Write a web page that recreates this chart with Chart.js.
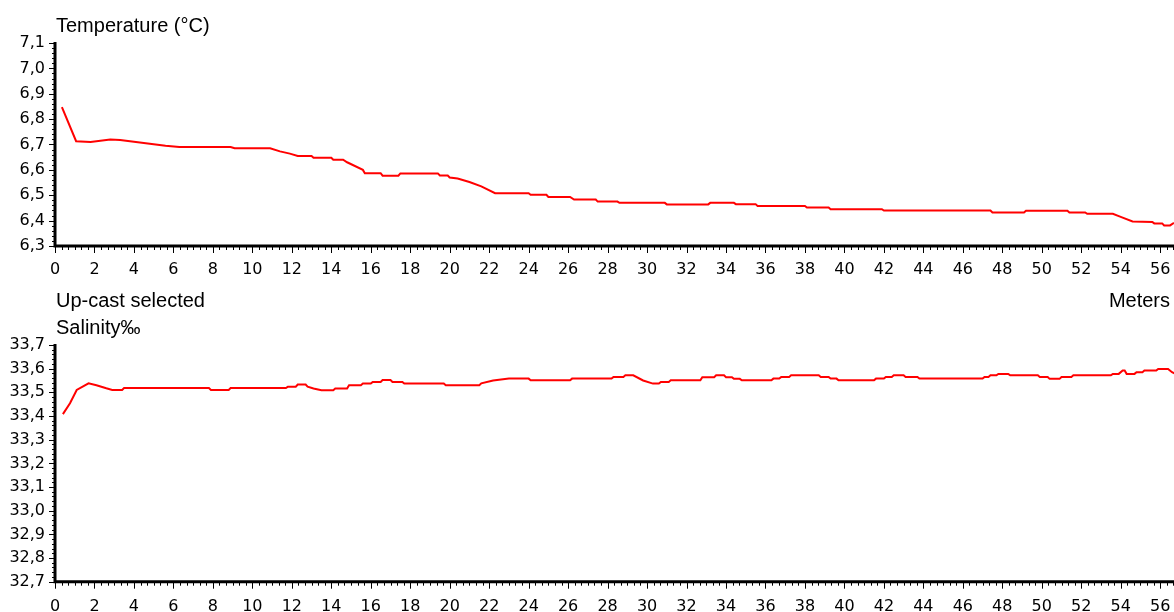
<!DOCTYPE html>
<html><head><meta charset="utf-8">
<script src="https://cdn.jsdelivr.net/npm/chart.js@4.4.1/dist/chart.umd.min.js"></script>
<style>
html,body{margin:0;padding:0;background:#fff;width:1174px;height:612px;overflow:hidden;}
.wrap{position:absolute;left:0;width:1174px;}
.lbl{position:absolute;font-family:"Liberation Sans",Arial,sans-serif;font-size:20px;color:#000;line-height:20px;white-space:nowrap;}
</style></head><body>
<div class="wrap" style="top:0;height:290px"><canvas id="c1"></canvas></div>
<div class="wrap" style="top:300px;height:312px"><canvas id="c2"></canvas></div>
<div class="lbl" style="left:56px;top:15px">Temperature (°C)</div>
<div class="lbl" style="left:56px;top:290px">Up-cast selected</div>
<div class="lbl" style="right:4px;top:290px">Meters</div>
<div class="lbl" style="left:56px;top:317px">Salinity‰</div>
<script>
// ---- data ----
const tempDepth = [0.35,1.07,1.8,2.8,3.3,4.1,4.8,5.6,6.3,8.9,9.1,10.9,11.4,11.9,12.3,13.0,13.1,14.0,14.1,14.6,14.8,15.6,15.7,16.5,16.6,17.4,17.5,19.4,19.5,19.9,20.0,20.4,21.0,21.6,22.3,24.0,24.1,24.9,25.0,26.1,26.3,27.4,27.5,28.5,28.6,30.9,31.0,33.1,33.2,34.4,34.5,35.5,35.6,38.0,38.1,39.2,39.3,41.9,42.0,47.4,47.5,49.1,49.2,51.3,51.4,52.2,52.3,53.6,54.0,54.6,55.6,55.7,56.1,56.2,56.5,56.7];
const tempValue = [6.847,6.713,6.71,6.72,6.718,6.71,6.703,6.695,6.69,6.69,6.685,6.685,6.673,6.664,6.655,6.655,6.648,6.648,6.64,6.64,6.63,6.60,6.587,6.587,6.577,6.577,6.586,6.586,6.578,6.578,6.57,6.566,6.552,6.535,6.508,6.508,6.502,6.502,6.493,6.493,6.483,6.483,6.475,6.475,6.47,6.47,6.464,6.464,6.47,6.47,6.465,6.465,6.458,6.458,6.452,6.452,6.445,6.445,6.44,6.44,6.432,6.432,6.439,6.439,6.432,6.432,6.427,6.427,6.415,6.397,6.395,6.389,6.389,6.381,6.381,6.391];

const salDepth = [0.4,0.76,1.1,1.7,2.1,2.6,2.9,3.4,3.5,7.8,7.9,8.8,8.9,11.7,11.8,12.2,12.3,12.7,12.8,13.1,13.5,14.1,14.2,14.8,14.9,15.5,15.6,16.0,16.1,16.5,16.6,17.0,17.1,17.6,17.7,19.7,19.8,21.5,21.6,22.2,23.0,24.0,24.1,26.1,26.2,28.2,28.3,28.8,28.9,29.3,29.8,30.3,30.6,30.7,31.1,31.2,32.7,32.8,33.4,33.5,33.9,34.0,34.3,34.4,34.7,34.8,36.3,36.4,36.7,36.8,37.2,37.3,38.7,38.8,39.2,39.3,39.6,39.7,41.5,41.6,42.0,42.1,42.4,42.5,43.0,43.1,43.7,43.8,47.0,47.1,47.3,47.4,47.7,47.8,48.3,48.4,49.8,49.9,50.3,50.4,50.9,51.0,51.5,51.6,53.5,53.6,53.9,54.1,54.2,54.3,54.7,54.8,55.1,55.2,55.8,55.9,56.4,56.6,56.8];
const salValue = [33.408,33.454,33.51,33.538,33.53,33.517,33.51,33.51,33.518,33.518,33.51,33.51,33.518,33.518,33.524,33.524,33.533,33.533,33.524,33.516,33.509,33.509,33.516,33.516,33.53,33.53,33.537,33.537,33.544,33.544,33.552,33.552,33.544,33.544,33.537,33.537,33.53,33.53,33.538,33.55,33.558,33.558,33.551,33.551,33.558,33.558,33.565,33.565,33.572,33.572,33.55,33.537,33.537,33.544,33.544,33.551,33.551,33.564,33.564,33.572,33.572,33.564,33.564,33.557,33.557,33.551,33.551,33.558,33.558,33.565,33.565,33.572,33.572,33.565,33.565,33.558,33.558,33.551,33.551,33.558,33.558,33.565,33.565,33.572,33.572,33.565,33.565,33.558,33.558,33.565,33.565,33.572,33.572,33.578,33.578,33.572,33.572,33.565,33.565,33.557,33.557,33.565,33.565,33.572,33.572,33.578,33.578,33.592,33.592,33.578,33.578,33.585,33.585,33.592,33.592,33.599,33.599,33.585,33.578];

const xRange = [0, 56.7];
const tempRange = [6.3, 7.1];
const salRange = [32.7, 33.7];
const xLabelStep = 2;
const yLabelStep = 0.1;

// ---- drawing ----
const tickFont = {family: "'DejaVu Sans', sans-serif", size: 16};
const axisPlugin = {
  id: 'axisDraw',
  afterDraw(chart) {
    const ctx = chart.ctx, xs = chart.scales.x, ys = chart.scales.y, ca = chart.chartArea;
    ctx.save();
    ctx.strokeStyle = '#000';
    ctx.lineWidth = 1;
    // x ticks: minor every 1/3, major every 2
    const nX = Math.round((xs.max - xs.min) * 3);
    for (let i = 0; i <= nX; i++) {
      const v = xs.min + i / 3;
      const px = Math.round(xs.getPixelForValue(v)) + 0.5;
      const len = (i % 6 === 0) ? 7 : 4;
      ctx.beginPath(); ctx.moveTo(px, ca.bottom); ctx.lineTo(px, ca.bottom + len); ctx.stroke();
    }
    // y ticks: minor every 0.02, major every 0.1
    const nY = Math.round((ys.max - ys.min) / 0.02);
    for (let i = 0; i <= nY; i++) {
      const v = ys.min + i * 0.02;
      const py = Math.round(ys.getPixelForValue(v)) + 0.5;
      const len = (i % 5 === 0) ? 6 : 3;
      ctx.beginPath(); ctx.moveTo(ca.left - len, py); ctx.lineTo(ca.left, py); ctx.stroke();
    }
    ctx.lineWidth = 3;
    ctx.beginPath();
    ctx.moveTo(ca.left, ca.top - 1);
    ctx.lineTo(ca.left, ca.bottom);
    ctx.lineTo(ca.right, ca.bottom);
    ctx.stroke();
    ctx.restore();
  }
};

function makeChart(id, depth, vals, yRange, padTop, xHeight, xPad) {
  return new Chart(document.getElementById(id), {
    type: 'line',
    data: {
      datasets: [{
        data: depth.map((d, i) => ({x: d, y: vals[i]})),
        borderColor: '#ff0000',
        borderWidth: 2,
        pointRadius: 0,
        tension: 0,
        fill: false
      }]
    },
    options: {
      responsive: true,
      maintainAspectRatio: false,
      animation: false,
      layout: {padding: {top: padTop, left: 0, right: 0, bottom: 0}},
      plugins: {legend: {display: false}, tooltip: {enabled: false}},
      scales: {
        x: {
          type: 'linear', min: xRange[0], max: xRange[1],
          grid: {display: false, drawTicks: false}, border: {display: false},
          ticks: {stepSize: xLabelStep, includeBounds: false, color: '#000', font: tickFont,
                  padding: xPad, maxRotation: 0, autoSkip: false},
          afterFit(s) { s.height = xHeight; s.paddingRight = 0; s.paddingLeft = 0; }
        },
        y: {
          type: 'linear', min: yRange[0], max: yRange[1],
          grid: {display: false, drawTicks: false}, border: {display: false},
          ticks: {stepSize: yLabelStep, color: '#000', font: tickFont, padding: 10,
                  callback: v => Number(v).toFixed(1).replace('.', ',')},
          afterFit(s) { s.width = 55; }
        }
      }
    },
    plugins: [axisPlugin]
  });
}
makeChart('c1', tempDepth, tempValue, tempRange, 43, 44, 14);
makeChart('c2', salDepth, salValue, salRange, 45, 30.3, 16);
</script>
</body></html>
